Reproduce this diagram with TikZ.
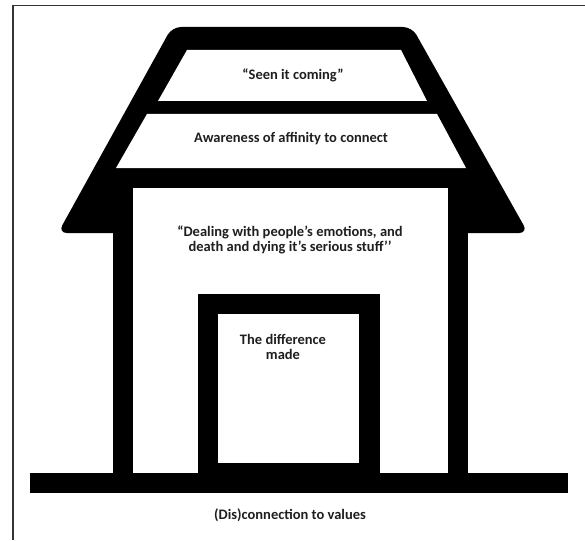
\documentclass[tikz,border=0pt]{standalone}
\usepackage{fontspec}
\setmainfont{Carlito}
\begin{document}
\begin{tikzpicture}[x=1pt,y=-1pt,
  blk/.style={fill=black,draw=none},
  wht/.style={fill=white,draw=none},
  lbl/.style={font=\fontsize{14.5}{14.5}\selectfont\bfseries,text=black!88,align=center,inner sep=0pt},
  framel/.style={draw=black!80,line width=1.3pt}]
\useasboundingbox (0,0) rectangle (585,540);
\fill[white] (0,0) rectangle (585,540);
% frame
\coordinate (fbl) at (13,540);
\coordinate (ftl) at (13,5.5);
\coordinate (ftr) at (585,5.5);
\draw[framel] (fbl) -- (ftl) -- (ftr);
% roof
\path[blk,rounded corners=9pt] (172,27) -- (412,27) -- (528,233) -- (58,233) -- cycle;
% walls block
\path[blk] (113,200) rectangle (468,473);
% roof panels
\path[wht] (187,50) -- (401,50) -- (427,101) -- (158,101) -- cycle;
\path[wht] (147,114) -- (437,114) -- (466,168) -- (116,168) -- cycle;
% body interior
\path[wht] (133,188) rectangle (448,473);
% door
\path[blk] (198,294) rectangle (380,473);
\path[wht] (218,314) rectangle (359,463);
% ground
\path[blk] (30,473) rectangle (568,493);
% labels
\node[lbl] (seen) at (293,75) {“Seen it coming"};
\node[lbl] (aware) at (291,139) {Awareness of affinity to connect};
\node[lbl] (deal) at (290,240) {“Dealing with people’s emotions, and\\death and dying it’s serious stuff’’};
\node[lbl] (diff) at (283,347) {The difference\\made};
\node[lbl] (values) at (290,515) {(Dis)connection to values};
\end{tikzpicture}
\end{document}
